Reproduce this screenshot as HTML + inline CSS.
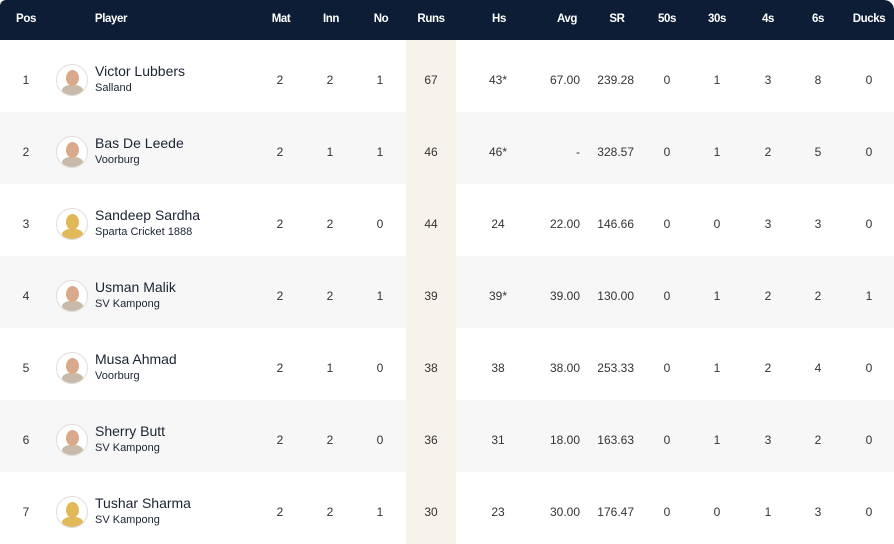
<!DOCTYPE html>
<html><head><meta charset="utf-8"><style>
*{margin:0;padding:0;box-sizing:border-box}
body{width:894px;height:539px;overflow:hidden;background:#fff;font-family:"Liberation Sans",sans-serif;position:relative}
.hdr{position:absolute;left:0;top:0;width:894px;height:40px;background:#0d1d36;border-radius:6px 10px 0 0}
.h{position:absolute;top:13px;color:#fff;font-weight:bold;font-size:11.5px;transform:translateX(-50%);letter-spacing:-0.4px}
.hl{position:absolute;left:406px;top:40px;width:50px;height:499px;background:#f8f3ea}
.row{position:absolute;left:0;width:894px;height:72px}
.row.g{background:#f7f7f7}
.c{position:absolute;top:33px;font-size:12px;color:#333;transform:translateX(-50%)}
.r{position:absolute;top:33px;font-size:12px;color:#333;transform:translateX(-100%)}
.av{position:absolute;left:56px;top:24px;width:32px;height:32px;border-radius:50%;border:1px solid #ddd;background:#fff;overflow:hidden}
.av::after{content:"";position:absolute;left:9px;top:5px;width:13px;height:16px;border-radius:50%;background:#d8a98a}
.av::before{content:"";position:absolute;left:5px;top:20px;width:21px;height:14px;border-radius:40% 40% 0 0;background:#c9b9a9}
.av.y::after{background:#e0b858}.av.y::before{background:#e0b858}
.nm{position:absolute;left:95px;top:23px;font-size:14px;color:#1b2333}
.tm{position:absolute;left:95px;top:42px;font-size:11px;color:#1b2333}
</style></head><body>
<div class="hl"></div>
<div class="hdr">
<span class="h" style="left:26px">Pos</span>
<span class="h" style="left:111px">Player</span>
<span class="h" style="left:281px">Mat</span>
<span class="h" style="left:331px">Inn</span>
<span class="h" style="left:381px">No</span>
<span class="h" style="left:431px">Runs</span>
<span class="h" style="left:499px">Hs</span>
<span class="h" style="left:567px">Avg</span>
<span class="h" style="left:617px">SR</span>
<span class="h" style="left:667px">50s</span>
<span class="h" style="left:717px">30s</span>
<span class="h" style="left:768px">4s</span>
<span class="h" style="left:818px">6s</span>
<span class="h" style="left:869px">Ducks</span>
</div>
<div id="rows"></div>
<script>
const d=[
["1","Victor Lubbers","Salland","2","2","1","67","43*","67.00","239.28","0","1","3","8","0",""],
["2","Bas De Leede","Voorburg","2","1","1","46","46*","-","328.57","0","1","2","5","0",""],
["3","Sandeep Sardha","Sparta Cricket 1888","2","2","0","44","24","22.00","146.66","0","0","3","3","0","y"],
["4","Usman Malik","SV Kampong","2","2","1","39","39*","39.00","130.00","0","1","2","2","1",""],
["5","Musa Ahmad","Voorburg","2","1","0","38","38","38.00","253.33","0","1","2","4","0",""],
["6","Sherry Butt","SV Kampong","2","2","0","36","31","18.00","163.63","0","1","3","2","0",""],
["7","Tushar Sharma","SV Kampong","2","2","1","30","23","30.00","176.47","0","0","1","3","0","y"]];
let h='';
d.forEach((r,i)=>{
h+=`<div class="row${i%2?' g':''}" style="top:${40+i*72}px">
<div class="hl" style="top:0;height:72px;left:406px"></div>
<span class="c" style="left:26px">${r[0]}</span>
<div class="av ${r[15]}"></div>
<div class="nm">${r[1]}</div><div class="tm">${r[2]}</div>
<span class="c" style="left:280px">${r[3]}</span>
<span class="c" style="left:330px">${r[4]}</span>
<span class="c" style="left:380px">${r[5]}</span>
<span class="c" style="left:431px">${r[6]}</span>
<span class="c" style="left:498px">${r[7]}</span>
<span class="r" style="left:580px">${r[8]}</span>
<span class="r" style="left:634px">${r[9]}</span>
<span class="c" style="left:667px">${r[10]}</span>
<span class="c" style="left:717px">${r[11]}</span>
<span class="c" style="left:768px">${r[12]}</span>
<span class="c" style="left:818px">${r[13]}</span>
<span class="c" style="left:869px">${r[14]}</span></div>`;});
document.getElementById('rows').innerHTML=h;
</script>
</body></html>
